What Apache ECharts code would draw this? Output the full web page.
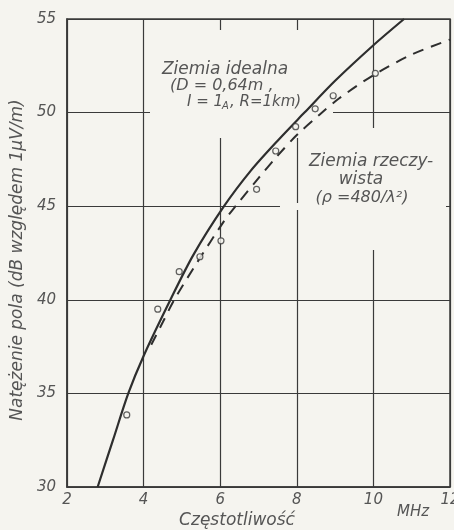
<!DOCTYPE html>
<html>
<head>
<meta charset="utf-8">
<script src="https://cdn.jsdelivr.net/npm/echarts@6/dist/echarts.min.js"></script>
<style>
  html, body { margin: 0; padding: 0; background: #f5f4ef; }
  #chart { width: 454px; height: 530px; }
</style>
</head>
<body>
<div id="chart"></div>
<script>
// ---- data ----
const xTicks = [2, 4, 6, 8, 10, 12];
const yTicks = [30, 35, 40, 45, 50, 55];

// "Ziemia idealna" – solid curve (MHz, dB)
const idealFreq  = [2.8, 3.2, 3.6, 4.0, 4.7, 5.3, 6.1, 6.8, 7.5, 8.2, 9.0, 10.0, 10.8];
const idealLevel = [30.0, 32.5, 35.0, 37.0, 40.0, 42.4, 45.0, 46.9, 48.5, 50.0, 51.7, 53.6, 55.0];

// "Ziemia rzeczywista" – dashed curve
const realFreq  = [4.2, 4.5, 4.8, 5.4, 6.1, 6.4, 7.0, 7.5, 8.0, 8.6, 9.1, 10.0, 11.0, 12.0];
const realLevel = [37.6, 38.8, 40.0, 42.0, 44.2, 45.0, 46.5, 47.7, 48.8, 49.9, 50.75, 52.0, 53.1, 53.9];

// measured points (circles)
const measFreq  = [3.56, 4.37, 4.93, 5.47, 6.02, 6.95, 7.45, 7.97, 8.48, 8.95, 10.05];
const measLevel = [33.85, 39.5, 41.5, 42.3, 43.15, 45.9, 47.95, 49.25, 50.2, 50.9, 52.1];

const pair = (xs, ys) => xs.map((x, i) => [x, ys[i]]);

// ---- style ----
const BG = '#f5f4ef';
const INK = '#3a3a3a';
const TXT = '#555555';
const FONT = 'DejaVu Sans';

const chart = echarts.init(document.getElementById('chart'), null, { renderer: 'canvas' });

const txt = (text, x, y, size, align) => ({
  type: 'text', z: 5, x: x, y: y,
  style: {
    text: text, fill: TXT, font: 'italic ' + size + 'px "' + FONT + '"',
    textAlign: align || 'left', textVerticalAlign: 'middle'
  }
});
const gapRect = (x, y, w, h) => ({
  type: 'rect', z: 1, shape: { x: x, y: y, width: w, height: h },
  style: { fill: BG }
});

chart.setOption({
  backgroundColor: BG,
  animation: false,
  grid: {
    left: 67, right: 4, top: 19, bottom: 43,
    containLabel: false, outerBoundsMode: 'none',
    show: true, borderColor: INK, borderWidth: 1.5
  },
  xAxis: {
    type: 'value', min: xTicks[0], max: xTicks[xTicks.length - 1], interval: 2,
    axisLine: { show: true, lineStyle: { color: INK, width: 1.5 } },
    axisTick: { show: false },
    axisLabel: {
      color: TXT, fontStyle: 'italic', fontSize: 15, fontFamily: FONT, margin: 6,
      showMaxLabel: true, showMinLabel: true
    },
    splitLine: { show: true, lineStyle: { color: INK, width: 1.2 } }
  },
  yAxis: {
    type: 'value', min: yTicks[0], max: yTicks[yTicks.length - 1], interval: 5,
    name: 'Natężenie pola (dB względem 1μV/m)',
    nameLocation: 'middle', nameRotate: 90, nameGap: 41,
    nameTextStyle: { color: TXT, fontStyle: 'italic', fontSize: 17, fontFamily: FONT, padding: [0, 14, 0, 0] },
    axisLine: { show: true, lineStyle: { color: INK, width: 1.5 } },
    axisTick: { show: false },
    axisLabel: { color: TXT, fontStyle: 'italic', fontSize: 15, fontFamily: FONT, margin: 11 },
    splitLine: { show: true, lineStyle: { color: INK, width: 1.2 } }
  },
  series: [
    {
      name: 'Ziemia idealna', type: 'line', z: 3,
      data: pair(idealFreq, idealLevel), smooth: 0.3, showSymbol: false,
      lineStyle: { color: '#2e2e2e', width: 2.2 }
    },
    {
      name: 'Ziemia rzeczywista', type: 'line', z: 3,
      data: pair(realFreq, realLevel), smooth: 0.3, showSymbol: false,
      lineStyle: { color: '#2e2e2e', width: 2, type: [11, 8] }
    },
    {
      name: 'pomiary', type: 'scatter', z: 4,
      data: pair(measFreq, measLevel), symbol: 'circle', symbolSize: 6,
      itemStyle: { color: BG, borderColor: '#3a3a3a', borderWidth: 1.2 }
    }
  ],
  graphic: [
    // gaps in the grid behind the annotations
    gapRect(150, 30, 183, 108),
    gapRect(280, 203, 166, 7),
    gapRect(306, 128, 140, 122),
    // annotations
    txt('Ziemia idealna', 225, 70, 17, 'center'),
    txt('(D = 0,64m ,', 170, 86, 16),
    txt('I = 1', 187, 102, 15),
    txt('A', 222, 106, 10),
    txt(', R=1km)', 230, 102, 15),
    txt('Ziemia rzeczy-', 371, 162, 17, 'center'),
    txt('wista', 361, 180, 17, 'center'),
    txt('(ρ =480/λ²)', 362, 198, 16, 'center'),
    // axis captions
    txt('Częstotliwość', 237, 521, 17, 'center'),
    txt('MHz', 413, 512, 15, 'center')
  ]
});
</script>
</body>
</html>
